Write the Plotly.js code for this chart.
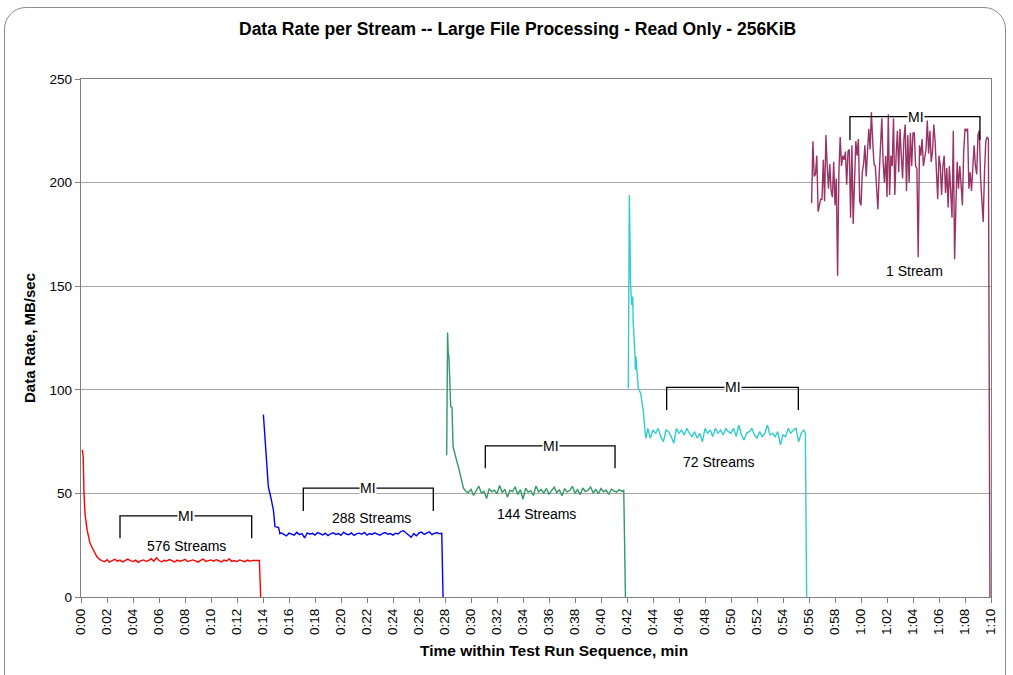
<!DOCTYPE html>
<html>
<head>
<meta charset="utf-8">
<script src="https://cdn.plot.ly/plotly-3.0.1.min.js"></script>
<style>
  html, body { margin: 0; padding: 0; background: #fff; }
  #wrap { position: relative; width: 1013px; height: 675px; overflow: hidden; }
  #frame { position: absolute; left: 4px; top: 7px; width: 1002px; height: 720px;
           border: 1px solid #8c8c8c; border-radius: 22px; box-sizing: border-box; }
  #chart { position: absolute; left: 0; top: 0; width: 1013px; height: 675px; }
</style>
</head>
<body>
<div id="wrap">
  <div id="frame"></div>
  <div id="chart"></div>
</div>
<script>
// ---------------- DATA ----------------
const tickLabels = ["0:00","0:02","0:04","0:06","0:08","0:10","0:12","0:14","0:16","0:18",
  "0:20","0:22","0:24","0:26","0:28","0:30","0:32","0:34","0:36","0:38","0:40","0:42",
  "0:44","0:46","0:48","0:50","0:52","0:54","0:56","0:58","1:00","1:02","1:04","1:06",
  "1:08","1:10"];

// 576 Streams
const redRampTime = [0.1, 0.17, 0.23, 0.31, 0.48, 0.69, 0.95, 1.21, 1.46];
const redRampRate = [71, 67.7, 50, 40, 32, 26, 22.7, 19.5, 18];
const redStart = 1.6, redStep = 0.2;
const redRate = [
  17.5,17.0,18.0,16.8,17.6,18.2,17.3,17.8,16.9,17.5,
  18.3,17.6,17.1,17.8,16.7,17.4,17.9,17.2,17.6,18.5,
  17.3,18.9,17.6,17.0,17.7,17.4,18.1,17.5,16.9,17.8,
  17.3,17.6,18.2,17.1,17.5,17.9,17.4,16.8,17.7,18.3,
  17.2,17.6,17.9,17.3,18.0,17.5,16.9,17.8,17.4,18.4,
  17.2,17.6,17.1,17.9,17.4,17.0,17.8,17.3,17.7,17.5,
  17.6];
const redTailTime = [13.72, 13.82];
const redTailRate = [17.6, 0];

// 288 Streams
const blueRampTime = [14.03, 14.15, 14.23, 14.41, 14.59, 14.8, 14.92, 15.05, 15.2, 15.3];
const blueRampRate = [88, 76.6, 74.2, 53.2, 48.4, 42, 34, 33.8, 33.5, 30.5];
const blueStart = 15.4, blueStep = 0.2;
const blueRate = [
  31.0,30.2,29.5,30.8,30.4,29.8,31.2,30.1,30.6,28.5,
  30.9,30.3,30.7,29.9,31.1,30.4,30.0,30.8,29.6,30.5,
  31.0,30.2,30.6,29.8,31.3,30.4,30.1,30.9,29.7,30.5,
  30.8,30.3,31.2,29.9,30.6,30.2,31.0,30.4,29.8,30.7,
  31.1,30.3,30.6,29.9,30.8,30.4,31.6,32.0,31.0,29.8,
  28.8,30.6,29.5,30.9,31.3,30.2,30.7,31.4,30.1,30.8,
  31.0,30.5];
const blueTailTime = [27.75, 27.85];
const blueTailRate = [30.8, 0];

// 144 Streams
const greenRampTime = [28.13, 28.2, 28.25, 28.3, 28.44, 28.54, 28.62, 28.9, 29.15, 29.41, 29.62];
const greenRampRate = [68.5, 127.6, 117.6, 116, 91.9, 91.5, 72.5, 66, 59.8, 52.6, 50.8];
const greenStart = 29.8, greenStep = 0.2;
const greenRate = [
  50.5,52.0,49.0,51.5,53.5,50.2,51.0,47.5,52.3,50.8,
  51.6,49.8,53.8,50.4,52.0,48.2,51.5,50.9,53.2,49.5,
  51.8,47.2,52.5,50.6,51.3,49.0,53.6,50.8,51.9,50.2,
  52.4,49.6,51.2,53.0,50.4,51.7,48.9,52.2,50.7,51.4,
  53.4,50.1,51.8,49.4,52.6,50.9,51.5,53.1,50.3,51.9,
  49.8,52.3,50.8,51.6,49.5,52.0,51.2,50.6,51.8,51.0];
const greenTailTime = [41.75, 41.88];
const greenTailRate = [51.5, 0];

// 72 Streams
const cyanRampTime = [42.1, 42.18, 42.28, 42.36, 42.44, 42.48, 42.62, 42.64, 42.69, 42.87, 43.05, 43.25, 43.38, 43.46];
const cyanRampRate = [100.7, 194, 150, 141, 145, 132, 116, 109.6, 116, 100.7, 98.3, 90, 80.6, 76.6];
const cyanStart = 43.6, cyanStep = 0.2;
const cyanRate = [
  81.4,76.6,80.6,79.0,81.4,77.4,74.9,80.6,79.8,77.4,
  74.2,81.4,79.0,80.6,78.2,81.4,79.0,77.4,79.8,76.6,
  79.0,74.9,81.4,79.0,80.6,77.4,81.4,79.0,80.6,78.2,
  81.4,79.8,79.0,81.4,77.4,83.0,78.2,75.8,79.0,79.8,
  81.4,78.2,76.6,79.8,77.4,79.0,83.0,78.2,79.0,77.4,
  79.8,73.4,78.2,77.4,81.4,79.0,80.6,81.4,74.9,79.0,
  80.6];
const cyanTailTime = [55.72, 55.82];
const cyanTailRate = [79, 0];

// 1 Stream
const purpleRampTime = [];
const purpleRampRate = [];
const purpleStart = 56.2, purpleStep = 0.1;
const purpleRate = [
  190,220,203,204,213,186,189,192,192,211,
  191,223,208,197,209,196,193,210,189,202,
  155,205,222,208,213,211,215,199,215,216,
  183,218,180,208,220,213,221,191,189,205,
  209,218,203,215,226,216,234,220,209,208,
  196,187,204,221,231,210,200,213,193,233,
  194,213,208,231,194,213,225,205,226,213,
  202,221,228,196,223,200,224,208,224,224,
  208,207,164,218,213,221,208,212,216,230,
  214,225,210,215,228,220,204,192,213,208,
  194,208,213,195,207,188,208,192,183,225,
  163,189,210,197,208,199,189,215,226,225,
  226,197,205,196,208,218,208,204,223,225,
  202,192,181,205,220,222,221];
const purpleTailTime = [69.92];
const purpleTailRate = [0];

// ---------------- BUILD ----------------
function series(rampT, rampV, start, step, vals, tailT, tailV) {
  const x = rampT.slice(), y = rampV.slice();
  vals.forEach((v, i) => { x.push(+(start + i * step).toFixed(3)); y.push(v); });
  return { x: x.concat(tailT), y: y.concat(tailV) };
}
const red = series(redRampTime, redRampRate, redStart, redStep, redRate, redTailTime, redTailRate);
const blue = series(blueRampTime, blueRampRate, blueStart, blueStep, blueRate, blueTailTime, blueTailRate);
const green = series(greenRampTime, greenRampRate, greenStart, greenStep, greenRate, greenTailTime, greenTailRate);
const cyan = series(cyanRampTime, cyanRampRate, cyanStart, cyanStep, cyanRate, cyanTailTime, cyanTailRate);
const purple = series(purpleRampTime, purpleRampRate, purpleStart, purpleStep, purpleRate, purpleTailTime, purpleTailRate);

const tickVals = tickLabels.map(s => { const p = s.split(":"); return (+p[0]) * 60 + (+p[1]); });

const FONT = '"Liberation Sans", Arial, sans-serif';
function tr(d, color, name) {
  return { x: d.x, y: d.y, type: 'scatter', mode: 'lines', name: name,
           line: { color: color, width: 1.4 }, hoverinfo: 'x+y' };
}
const traces = [
  tr(red, '#FF0000', '576 Streams'),
  tr(blue, '#0000FF', '288 Streams'),
  tr(green, '#339966', '144 Streams'),
  tr(cyan, '#33CCCC', '72 Streams'),
  tr(purple, '#993366', '1 Stream')
];

// brackets: [left x, right x, top y, bottom y, MI x]
const brackets = [
  [3.0, 13.13, 39.2, 28.3, 8.1],
  [17.1, 27.1, 52.5, 41.5, 22.05],
  [31.1, 41.08, 72.9, 62.1, 36.13],
  [45.05, 55.18, 101.2, 90.3, 50.18],
  [59.15, 69.15, 231.8, 220.6, 64.2]
];
const labels = [
  [8.13, 24.8, '576 Streams'],
  [22.36, 38, '288 Streams'],
  [35.05, 40, '144 Streams'],
  [49.1, 65.3, '72 Streams'],
  [64.15, 157.3, '1 Stream']
];

const shapes = [];
const annotations = [];
brackets.forEach(b => {
  shapes.push({ type: 'path', xref: 'x', yref: 'y', layer: 'above',
    path: `M ${b[0]} ${b[3]} L ${b[0]} ${b[2]} L ${b[1]} ${b[2]} L ${b[1]} ${b[3]}`,
    line: { color: '#000', width: 1.3 } });
  annotations.push({ x: b[4], y: b[2], xref: 'x', yref: 'y', text: 'MI', showarrow: false,
    bgcolor: '#fff', borderpad: 0, font: { family: FONT, size: 14, color: '#000' },
    xanchor: 'center', yanchor: 'middle' });
});
labels.forEach(l => {
  annotations.push({ x: l[0], y: l[1], xref: 'x', yref: 'y', text: l[2], showarrow: false,
    font: { family: FONT, size: 14, color: '#000' }, xanchor: 'center', yanchor: 'middle' });
});
// x axis title placed as an annotation (off-centre as in the reference)
annotations.push({ x: 0.52, y: 0, xref: 'paper', yref: 'paper', yshift: -53,
  text: '<b>Time within Test Run Sequence, min</b>', showarrow: false,
  font: { family: FONT, size: 15.5, color: '#000' }, xanchor: 'center', yanchor: 'middle' });

const layout = {
  width: 1013, height: 675,
  paper_bgcolor: 'rgba(0,0,0,0)', plot_bgcolor: '#fff',
  margin: { l: 81, r: 22, t: 79, b: 78, pad: 0 },
  showlegend: false,
  font: { family: FONT, color: '#000' },
  title: { text: '<b>Data Rate per Stream -- Large File Processing - Read Only - 256KiB</b>',
           font: { family: FONT, size: 17.5, color: '#000' }, x: 0.511, xanchor: 'center', y: 0.957, yanchor: 'middle' },
  xaxis: {
    range: [0, 70], tickmode: 'array', tickvals: tickVals, ticktext: tickLabels,
    tickangle: -90, tickfont: { family: FONT, size: 13.5, color: '#000' },
    ticks: 'outside', ticklen: 5, tickcolor: '#808080', tickwidth: 1,
    showgrid: false, zeroline: false, showline: true, linecolor: '#808080', linewidth: 1.3, mirror: true,
    fixedrange: true
  },
  yaxis: {
    range: [0, 250], tickvals: [0, 50, 100, 150, 200, 250],
    tickfont: { family: FONT, size: 13.5, color: '#000' },
    ticks: 'outside', ticklen: 5, tickcolor: '#808080', tickwidth: 1,
    showgrid: true, gridcolor: '#a6a6a6', gridwidth: 1.3, zeroline: false,
    showline: true, linecolor: '#808080', linewidth: 1.3, mirror: true,
    title: { text: '<b>Data Rate, MB/sec</b>', font: { family: FONT, size: 15, color: '#000' }, standoff: 10 },
    fixedrange: true
  },
  shapes: shapes,
  annotations: annotations
};

Plotly.newPlot('chart', traces, layout, { staticPlot: true, displayModeBar: false });
</script>
</body>
</html>
